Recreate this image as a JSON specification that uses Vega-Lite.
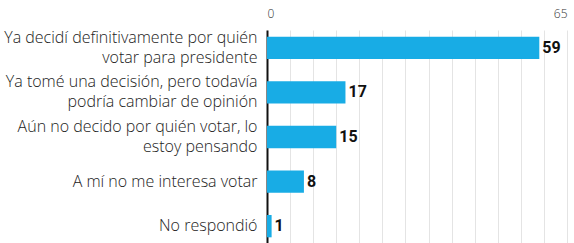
{
  "$schema": "https://vega.github.io/schema/vega-lite/v6.json",
  "autosize": {"type": "none"},
  "width": 300,
  "height": 214,
  "padding": {"left": 267, "top": 30, "right": 7, "bottom": 0},
  "background": "#ffffff",
  "config": {"view": {"stroke": null}},
  "data": {
    "values": [
      {"respuesta": "Ya decidí definitivamente por quién|votar para presidente", "valor": 59},
      {"respuesta": "Ya tomé una decisión, pero todavía|podría cambiar de opinión", "valor": 17},
      {"respuesta": "Aún no decido por quién votar, lo|estoy pensando", "valor": 15},
      {"respuesta": "A mí no me interesa votar", "valor": 8},
      {"respuesta": "No respondió", "valor": 1}
    ]
  },
  "encoding": {
    "y": {
      "field": "respuesta",
      "type": "nominal",
      "sort": null,
      "scale": {"paddingInner": 0.5, "paddingOuter": 0.15},
      "axis": {
        "title": null,
        "ticks": false,
        "domain": true,
        "domainColor": "#111111",
        "domainWidth": 2,
        "labelPadding": 10,
        "labelFont": "Open Sans",
        "labelFontWeight": 300,
        "labelFontSize": 16,
        "labelColor": "#222222",
        "labelLineHeight": 20,
        "labelLimit": 400,
        "labelOffset": {"condition": {"test": "indexof(datum.value, '|') >= 0", "value": -10}, "value": 0},
        "labelExpr": "split(datum.value, '|')"
      }
    },
    "x": {
      "field": "valor",
      "type": "quantitative",
      "scale": {"domain": [0, 65], "nice": false},
      "axis": {
        "orient": "top",
        "title": null,
        "values": [0, 5, 10, 15, 20, 25, 30, 35, 40, 45, 50, 55, 60, 65],
        "labelExpr": "datum.value == 0 || datum.value == 65 ? datum.label : ''",
        "domain": false,
        "ticks": false,
        "grid": true,
        "gridColor": "#e4e4e4",
        "gridWidth": 1,
        "labelPadding": 10,
        "labelFont": "Open Sans",
        "labelFontWeight": 300,
        "labelFontSize": 12,
        "labelColor": "#333333"
      }
    }
  },
  "layer": [
    {"mark": {"type": "bar", "color": "#18ace5"}},
    {
      "mark": {"type": "text", "align": "left", "baseline": "middle", "dx": 3, "font": "Roboto", "fontWeight": "bold", "fontSize": 16, "color": "#111111"},
      "encoding": {"text": {"field": "valor", "type": "quantitative"}}
    }
  ]
}
